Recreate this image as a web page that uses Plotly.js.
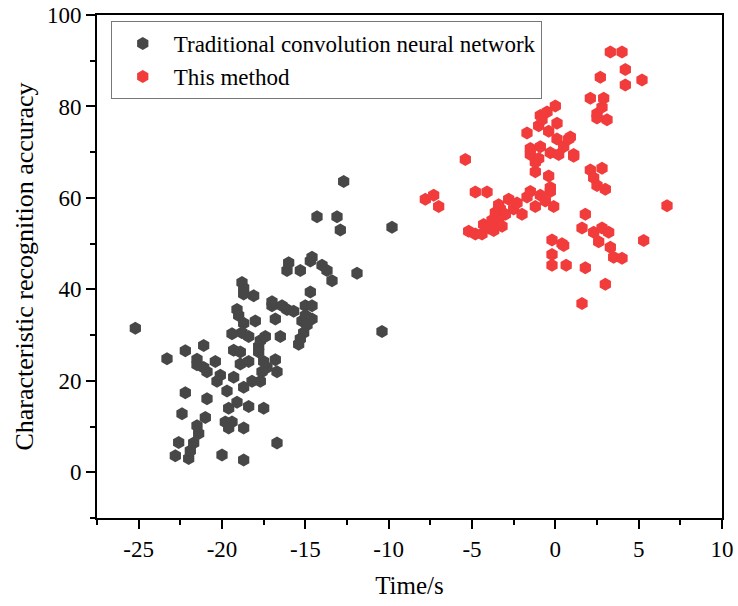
<!DOCTYPE html>
<html>
<head>
<meta charset="utf-8">
<script src="https://cdn.plot.ly/plotly-3.0.1.min.js"></script>
<style>html,body{margin:0;padding:0;background:#fff;}#chart{width:738px;height:606px;}</style>
</head>
<body>
<div id="chart"></div>
<script>
const seriesNames = ["Traditional convolution neural network", "This method"];

const cnnTime = [-25.2,-23.3,-22.2,-21.1,-22.2,-22.4,-22.6,-22.8,-22.0,-21.9,
  -21.7,-21.4,-21.5,-21.0,-20.9,-21.5,-21.5,-21.1,-20.9,-20.4,
  -20.3,-20.1,-20.0,-19.7,-19.6,-19.8,-19.6,-19.4,-19.3,-19.3,
  -19.4,-19.1,-19.0,-19.1,-18.9,-18.9,-18.7,-18.7,-18.7,-18.8,
  -18.7,-18.7,-18.7,-18.8,-18.4,-18.4,-18.4,-18.1,-18.0,-18.2,
  -17.8,-17.7,-17.8,-17.7,-17.6,-17.5,-17.5,-17.4,-17.3,-17.0,
  -17.0,-16.8,-16.8,-16.7,-16.5,-16.7,-16.4,-16.1,-16.1,-16.0,
  -15.7,-15.4,-15.3,-15.3,-15.1,-15.2,-15.0,-15.0,-14.9,-14.7,
  -14.6,-14.6,-14.7,-14.6,-14.3,-14.0,-13.7,-13.4,-13.1,-12.9,
  -12.7,-11.9,-10.4,-9.8];
const cnnAcc = [31.5,24.8,26.6,27.7,17.4,12.8,6.5,3.6,3.0,4.7,
  6.4,8.5,10.2,12.0,16.1,24.7,23.5,22.9,22.0,24.2,
  19.9,21.2,3.8,17.8,14.0,11.0,9.7,11.0,20.8,26.7,
  30.3,35.6,34.3,15.3,26.3,23.7,18.6,9.7,2.7,41.5,
  40.3,39.0,32.6,30.5,29.7,24.2,14.4,38.6,33.1,19.9,
  27.5,28.8,26.3,19.9,22.0,24.2,14.0,29.7,22.9,36.4,
  37.3,33.5,24.6,22.0,29.7,6.4,36.4,35.6,44.1,45.8,
  35.2,28.0,29.2,44.1,30.5,33.1,36.4,34.3,32.2,39.4,
  36.4,33.5,46.2,47.0,55.9,45.3,44.1,41.9,55.9,53.0,
  63.6,43.5,30.8,53.6];

const ourTime = [-7.8,-7.3,-7.0,-5.4,-5.2,-4.8,-4.8,-4.1,-4.4,-4.3,
  -4.0,-3.8,-3.6,-3.7,-3.4,-3.3,-3.2,-3.0,-3.4,-2.8,
  -2.5,-2.0,-2.3,-1.7,-1.5,-1.7,-1.5,-1.5,-1.2,-1.2,
  -1.0,-1.2,-0.9,-0.8,-0.9,-1.0,-0.9,-0.6,-0.5,-0.4,
  -0.3,-0.4,-0.3,-0.3,-0.1,-0.2,-0.2,-0.2,0.0,0.1,
  0.1,0.2,0.4,0.5,0.65,0.5,0.8,0.9,1.1,1.1,
  1.6,1.6,1.8,1.8,2.1,2.1,2.3,2.3,2.5,2.5,
  2.5,2.6,2.7,2.8,2.8,2.9,2.8,3.0,3.0,3.1,
  3.2,3.3,3.3,3.5,4.0,4.0,4.2,4.2,5.2,5.3,
  6.7];
const ourAcc = [59.7,60.6,58.1,68.4,52.7,52.1,61.3,61.3,52.1,54.2,
  53.4,55.1,56.8,52.9,54.7,57.6,53.8,56.4,58.5,59.7,
  57.6,56.4,58.9,60.2,61.4,74.2,70.8,69.5,65.7,67.8,
  75.8,58.1,78.0,77.1,71.2,68.6,60.6,59.3,78.8,74.6,
  69.9,64.8,62.3,61.4,58.1,50.8,47.6,45.3,80.1,76.3,
  72.9,69.5,50.0,49.6,45.3,71.2,72.9,73.3,69.5,69.1,
  36.9,53.4,56.4,44.7,66.1,81.8,64.4,52.5,62.7,78.4,
  77.5,50.4,86.4,79.8,66.5,81.8,53.4,61.9,41.1,77.1,
  52.5,91.9,49.2,47.0,46.8,91.9,88.1,84.7,85.8,50.7,
  58.3];

const xTickVals = [-25, -20, -15, -10, -5, 0, 5, 10];
const yTickVals = [0, 20, 40, 60, 80, 100];

const FONT = 'Liberation Serif';

const traces = [
  {x: cnnTime, y: cnnAcc, name: seriesNames[0], type: 'scatter', mode: 'markers',
   marker: {symbol: 'hexagon', size: 13, color: '#474747', line: {width: 0}}},
  {x: ourTime, y: ourAcc, name: seriesNames[1], type: 'scatter', mode: 'markers',
   marker: {symbol: 'hexagon', size: 13, color: '#f23b3b', line: {width: 0}}}
];

const layout = {
  width: 738, height: 606,
  margin: {l: 97, r: 16, t: 15, b: 88},
  paper_bgcolor: '#fff', plot_bgcolor: '#fff',
  font: {family: FONT, size: 23, color: '#000'},
  showlegend: true,
  legend: {x: 0.022, y: 0.988, xanchor: 'left', yanchor: 'top',
    bordercolor: '#777', borderwidth: 1, bgcolor: '#fff',
    font: {family: FONT, size: 23, color: '#000'},
    itemwidth: 52, tracegroupgap: 0},
  xaxis: {
    showgrid: false, zeroline: false, showline: true, linecolor: '#000', linewidth: 2,
    mirror: true, ticks: 'outside', tickcolor: '#000', tickwidth: 2, ticklen: 9,
    tickfont: {family: FONT, size: 23, color: '#000'},
    range: [-27.5, 10], tickvals: xTickVals, ticktext: xTickVals.map(String),
    minor: {dtick: 2.5, ticks: 'outside', ticklen: 5, tickwidth: 2, tickcolor: '#000'},
    title: {text: 'Time/s', font: {family: FONT, size: 25, color: '#000'}, standoff: 16}
  },
  yaxis: {
    showgrid: false, zeroline: false, showline: true, linecolor: '#000', linewidth: 2,
    mirror: true, ticks: 'outside', tickcolor: '#000', tickwidth: 2, ticklen: 9,
    tickfont: {family: FONT, size: 23, color: '#000'},
    range: [-10, 100], tickvals: yTickVals, ticktext: yTickVals.map(String),
    minor: {dtick: 10, ticks: 'outside', ticklen: 5, tickwidth: 2, tickcolor: '#000'},
    title: {text: 'Characteristic recognition accuracy', font: {family: FONT, size: 26, color: '#000'}, standoff: 6}
  }
};

Plotly.newPlot('chart', traces, layout, {displayModeBar: false, staticPlot: true});
</script>
</body>
</html>
